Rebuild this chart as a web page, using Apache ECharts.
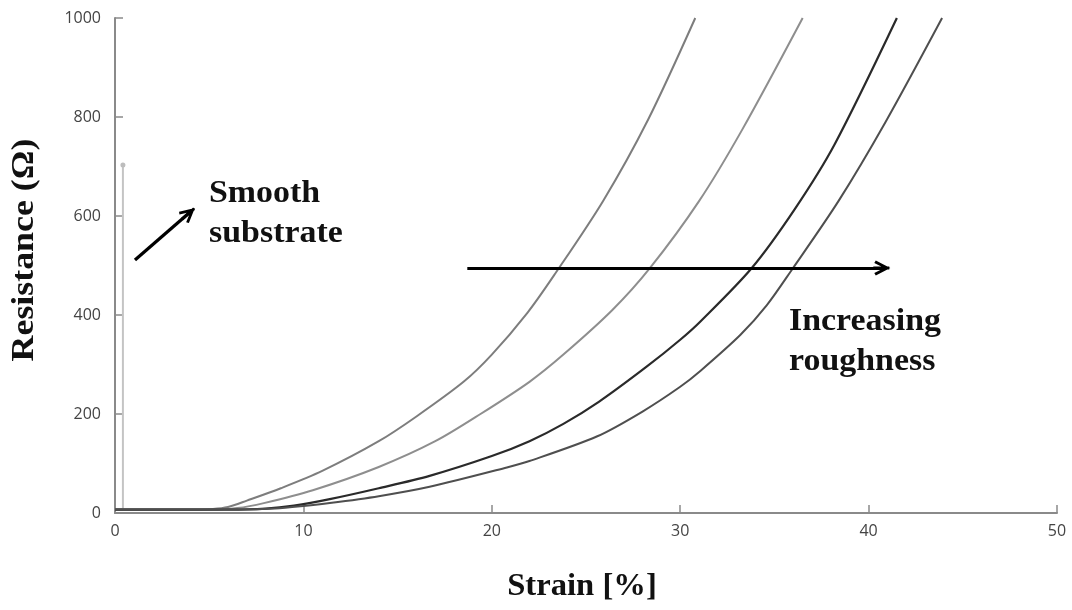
<!DOCTYPE html>
<html>
<head>
<meta charset="utf-8">
<script src="https://cdn.jsdelivr.net/npm/echarts@6/dist/echarts.min.js"></script>
<style>
  html, body { margin: 0; padding: 0; background: #ffffff; }
  #chart { width: 1072px; height: 610px; }
</style>
</head>
<body>
<div id="chart"></div>
<script>
// Resistance vs. strain for films on substrates of increasing roughness
const xTicks = [0, 10, 20, 30, 40, 50];
const yTicks = [0, 200, 400, 600, 800, 1000];

// Smooth substrate: jumps almost immediately
const strainSmooth = [0, 0.42, 0.42];
const resSmooth = [7, 7, 703];

// Rough substrates, least rough first
const strain1 = [0, 4, 5.2, 6, 7, 8.8, 11, 14, 16, 18.5, 20, 21.9, 23.3, 25.9, 28.3, 30.8];
const res1 = [7, 7, 8, 12, 25, 50, 85, 145, 195, 265, 320, 405, 480, 630, 795, 1000];

const strain2 = [0, 5, 6.5, 7.9, 10.5, 14, 17, 19.4, 22, 23.8, 26.4, 28.4, 31, 33.3, 36.5];
const res2 = [7, 7, 10, 20, 46, 93, 145, 200, 265, 320, 410, 495, 630, 775, 1000];

const strain3 = [0, 6, 8, 9.5, 11.4, 14, 16.7, 20, 22, 23.8, 25.7, 28.2, 30, 31.1, 33.8, 36.1, 38.2, 41.5];
const res3 = [7, 7, 9, 15, 28, 50, 75, 115, 145, 180, 225, 295, 350, 388, 495, 615, 745, 1000];

const strain4 = [0, 6.5, 8.5, 10, 11.4, 14, 16.7, 20.8, 22, 25.6, 28, 30, 31.1, 33.2, 34.6, 35.9, 38.4, 40.9, 43.9];
const res4 = [7, 7, 9, 14, 20, 34, 53, 92, 105, 155, 205, 255, 288, 360, 420, 490, 630, 790, 1000];

// Annotation arrows (data coordinates)
const smoothArrow = [[1.06, 511], [3.9, 605]];
const roughArrow = [[18.7, 495], [40.7, 495]];

const pair = (xs, ys) => xs.map((x, i) => [x, ys[i]]);

const tickFont = { fontFamily: 'Open Sans', fontSize: 16, color: '#444' };
const titleFont = 'bold 32px "Liberation Serif"';

// Open chevron head with a short shaft, pointing up (rotated along the line)
const chevron = 'path://M7.5,0 L15,14.5 L12.6,16 L7.5,6 L2.4,16 L0,14.5 Z M6,1 L9,1 L9,17 L6,17 Z';

function curve(name, xs, ys, color, width) {
  return {
    name: name,
    type: 'line',
    data: pair(xs, ys),
    showSymbol: false,
    smooth: 0.3,
    lineStyle: { color: color, width: width },
    silent: true,
    z: 3
  };
}

function arrow(pts) {
  return [{ coord: pts[0] }, { coord: pts[1] }];
}

function label(text, x, y, align, sx, rot) {
  return {
    type: 'text', x: x, y: y, rotation: rot || 0, scaleX: sx, scaleY: 1,
    style: { text: text, font: titleFont, fill: '#111', align: align, verticalAlign: 'middle' }
  };
}

const chart = echarts.init(document.getElementById('chart'), null, { renderer: 'canvas' });

chart.setOption({
  animation: false,
  backgroundColor: '#ffffff',
  grid: { left: 115, right: 15, top: 18, bottom: 97, containLabel: false },
  xAxis: {
    type: 'value',
    min: xTicks[0],
    max: xTicks[xTicks.length - 1],
    interval: 10,
    axisLine: { lineStyle: { color: '#8a8a8a', width: 2 } },
    axisTick: { inside: true, length: 8, lineStyle: { color: '#8a8a8a', width: 1.5 } },
    axisLabel: Object.assign({ margin: 10, formatter: v => String(v) }, tickFont),
    splitLine: { show: false }
  },
  yAxis: {
    type: 'value',
    min: yTicks[0],
    max: yTicks[yTicks.length - 1],
    interval: 200,
    axisLine: { show: true, lineStyle: { color: '#8a8a8a', width: 2 } },
    axisTick: { show: true, inside: true, length: 8, lineStyle: { color: '#8a8a8a', width: 1.5 } },
    axisLabel: Object.assign({ margin: 14, formatter: v => String(v) }, tickFont),
    splitLine: { show: false }
  },
  series: [
    {
      name: 'Smooth',
      type: 'line',
      data: pair(strainSmooth, resSmooth).map((p, i, arr) =>
        i === arr.length - 1 ? { value: p, symbol: 'circle', symbolSize: 5 } : { value: p, symbol: 'none' }),
      showSymbol: true,
      itemStyle: { color: '#bdbdbd' },
      lineStyle: { color: '#c4c4c4', width: 2 },
      silent: true,
      z: 2
    },
    curve('R1', strain1, res1, '#7d7d7d', 2),
    curve('R2', strain2, res2, '#8e8e8e', 2),
    curve('R3', strain3, res3, '#2a2a2a', 2.2),
    curve('R4', strain4, res4, '#4f4f4f', 2),
    {
      name: 'arrows',
      type: 'line',
      data: [],
      silent: true,
      markLine: {
        silent: true,
        animation: false,
        symbol: ['none', chevron],
        symbolSize: [15, 17],
        label: { show: false },
        emphasis: { disabled: true },
        lineStyle: { color: '#000', width: 3.2, type: 'solid' },
        data: [arrow(smoothArrow), arrow(roughArrow)]
      },
      z: 5
    }
  ],
  graphic: [
    label('Resistance (Ω)', 25, 250, 'center', 1.12, Math.PI / 2),
    label('Strain [%]', 582, 587, 'center', 1.02),
    label('Smooth', 209, 194, 'left', 1.06),
    label('substrate', 209, 234, 'left', 1.06),
    label('Increasing', 789, 322, 'left', 1.06),
    label('roughness', 789, 362, 'left', 1.06)
  ]
});
</script>
</body>
</html>
